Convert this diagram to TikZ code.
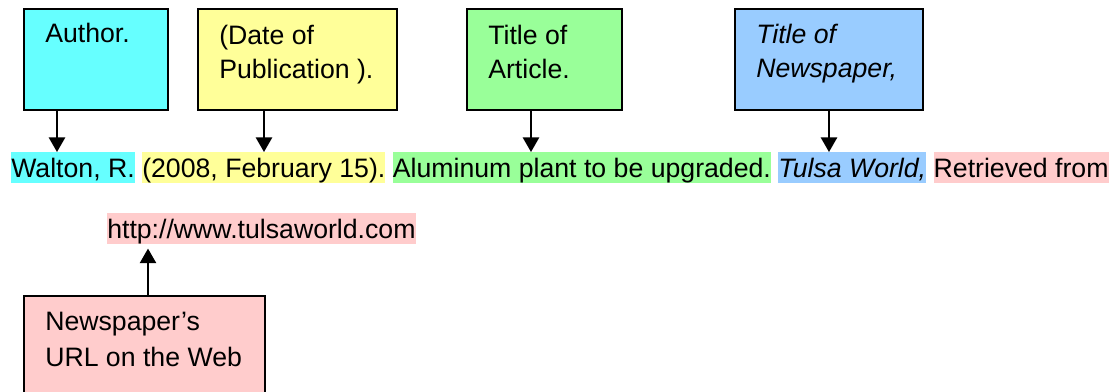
\documentclass[tikz,border=0pt]{standalone}
\usepackage{fontspec}
\setmainfont{Liberation Sans}
\usetikzlibrary{positioning,arrows.meta}
\definecolor{authorc}{HTML}{66FFFF}
\definecolor{datec}{HTML}{FFFF99}
\definecolor{titlec}{HTML}{99FF99}
\definecolor{paperc}{HTML}{99CCFF}
\definecolor{urlc}{HTML}{FFCCCC}

\begin{document}
\begin{tikzpicture}[x=0.75pt,y=-0.75pt,
  box/.style={draw, line width=1.4pt, anchor=north west, inner sep=0pt, minimum height=75.75pt},
  boxtext/.style={anchor=base west, inner sep=0pt, align=left, font=\fontsize{20}{25.5}\selectfont},
  hl/.style={inner sep=0pt, text height=18.5pt, text depth=4.7pt, font=\fontsize{20}{24}\selectfont},
  arr/.style={-{Triangle[width=12pt,length=11pt]}, line width=2pt}]
\useasboundingbox (0,0) rectangle (1113,392);
\clip (0,0) rectangle (1113,392);
% boxes
\node[box, fill=authorc, minimum width=108pt] (author) at (23,8) {};
\node[box, fill=datec, minimum width=149.25pt] (date) at (197,8) {};
\node[box, fill=titlec, minimum width=116.25pt] (title) at (466,8) {};
\node[box, fill=paperc, minimum width=141pt] (paper) at (734,8) {};
\node[box, fill=urlc, minimum width=180.75pt] (url) at (23,295) {};
% box texts (base = last line)
\node[boxtext] (authortxt) at ([shift={(16.5pt,-26.25pt)}]author.north west) {Author.};
\node[boxtext] (datetxt) at ([shift={(16.5pt,-53.25pt)}]date.north west) {(Date of\\Publication ).};
\node[boxtext] (titletxt) at ([shift={(16.5pt,-53.25pt)}]title.north west) {Title of\\Article.};
\node[boxtext, font=\fontsize{20}{25.5}\selectfont\itshape] (papertxt) at ([shift={(16.5pt,-52.5pt)}]paper.north west) {Title of\\Newspaper,};
\node[boxtext, font=\fontsize{20}{27}\selectfont] (urltxt) at ([shift={(16.5pt,-53.25pt)}]url.north west) {Newspaper’s\\URL on the Web};
% reference line
\node[hl, fill=authorc, anchor=base west] (walton) at (11,177) {Walton, R.};
\node[hl, fill=datec, right=5.25pt of walton] (pubdate) {(2008, February 15).};
\node[hl, fill=titlec, right=5.25pt of pubdate] (article) {Aluminum plant to be upgraded.};
\node[hl, fill=paperc, right=5.25pt of article, font=\fontsize{20}{24}\selectfont\itshape] (tulsa) {Tulsa World,};
\node[hl, fill=urlc, right=5.25pt of tulsa] (retr) {Retrieved from};
\node[hl, fill=urlc, anchor=base west] (link) at (107,238) {http://www.tulsaworld.com};
% arrows
\coordinate (a1) at ([xshift=25.5pt]author.south west);
\coordinate (a2) at ([xshift=50.25pt]date.south west);
\coordinate (a3) at ([xshift=48.75pt]title.south west);
\coordinate (a4) at ([xshift=71.25pt]paper.south west);
\coordinate (a5) at ([xshift=93.75pt]url.north west);
\draw[arr] (a1) -- (a1 |- walton.north);
\draw[arr] (a2) -- (a2 |- pubdate.north);
\draw[arr] (a3) -- (a3 |- article.north);
\draw[arr] (a4) -- (a4 |- tulsa.north);
\draw[arr, shorten >=3pt] (a5) -- (a5 |- link.south);
\end{tikzpicture}
\end{document}
